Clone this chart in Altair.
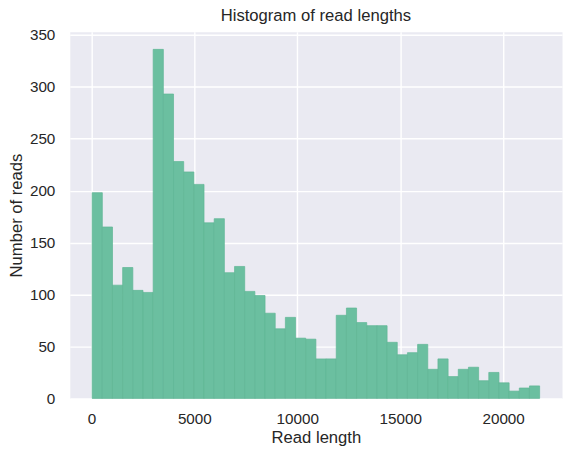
import altair as alt
import pandas as pd

# Histogram data
bin_start = 37
bin_width = 494
counts = [198, 165, 109, 126, 104, 102, 336, 293, 228, 218, 206, 169, 173, 121,
          127, 103, 99, 82, 67, 78, 58, 57, 38, 38, 80, 87, 73, 70, 70, 54,
          42, 44, 52, 28, 38, 21, 28, 30, 17, 25, 15, 7, 10, 12]
x_ticks = [0, 5000, 10000, 15000, 20000]
y_ticks = [0, 50, 100, 150, 200, 250, 300, 350]
x_domain = [-1050, 22860]
y_domain = [0, 353]

df = pd.DataFrame({
    "start": [bin_start + i * bin_width for i in range(len(counts))],
    "end": [bin_start + (i + 1) * bin_width for i in range(len(counts))],
    "count": counts,
})

TEXT = "#262626"
FONT = "Liberation Sans"

chart = alt.Chart(df).mark_rect(
    color="#6bbfa0", stroke="#5fb694", strokeWidth=0.7
).encode(
    x=alt.X("start:Q", title="Read length",
            scale=alt.Scale(domain=x_domain, nice=False, zero=False),
            axis=alt.Axis(values=x_ticks, format="d", grid=True, gridColor="white",
                          gridWidth=1.4, domain=False, ticks=False, labelPadding=13,
                          labelFontSize=15.3, labelColor=TEXT, labelFont=FONT,
                          titleFont=FONT, titleFontSize=16.7, titleColor=TEXT,
                          titleFontWeight="normal", titleBaseline="alphabetic",
                          titleY=44)),
    x2="end:Q",
    y=alt.Y("count:Q", title="Number of reads",
            scale=alt.Scale(domain=y_domain, nice=False),
            axis=alt.Axis(values=y_ticks, grid=True, gridColor="white",
                          gridWidth=1.4, domain=False, ticks=False, labelPadding=15,
                          labelFontSize=15.3, labelColor=TEXT, labelFont=FONT,
                          titleFont=FONT, titleFontSize=16.7, titleColor=TEXT,
                          titleFontWeight="normal", titleBaseline="alphabetic",
                          titleX=-48, titleY=184, titleAlign="center")),
    y2=alt.datum(0),
).properties(
    width=494,
    height=368,
    title=alt.TitleParams("Histogram of read lengths", font=FONT, fontSize=16.7,
                          fontWeight="normal", color=TEXT, anchor="middle",
                          frame="group", baseline="alphabetic", offset=8, dy=18),
    autosize=alt.AutoSizeParams(type="none"),
    padding={"left": 62, "top": 23, "right": 5, "bottom": 50},
    background="white",
).configure_view(
    fill="#EAEAF2", stroke="transparent"
)

chart.save("out.html", embed_options={"renderer": "svg", "actions": False})
